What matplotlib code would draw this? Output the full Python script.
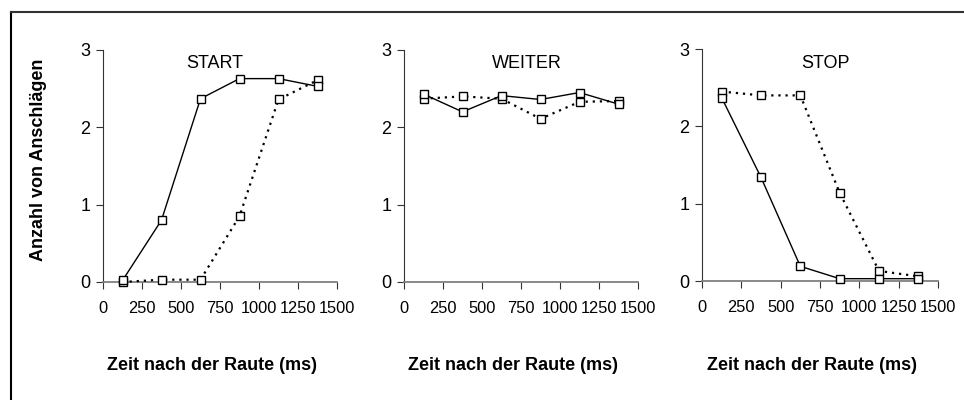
import matplotlib
matplotlib.use("Agg")
import matplotlib.pyplot as plt
from matplotlib.lines import Line2D

# bin centres (ms)
zeit = [125, 375, 625, 875, 1125, 1375]

titles = ["START", "WEITER", "STOP"]

# solid series
solid = [
    [0.02, 0.80, 2.37, 2.63, 2.63, 2.53],
    [2.43, 2.20, 2.41, 2.36, 2.45, 2.30],
    [2.37, 1.34, 0.19, 0.03, 0.03, 0.03],
]
# dotted series
dotted = [
    [0.00, 0.03, 0.03, 0.85, 2.36, 2.61],
    [2.37, 2.40, 2.37, 2.11, 2.33, 2.34],
    [2.45, 2.40, 2.40, 1.14, 0.13, 0.06],
]

xticks = [0, 250, 500, 750, 1000, 1250, 1500]
yticks = [0, 1, 2, 3]

W, H = 964, 400
fig = plt.figure(figsize=(W / 100, H / 100), dpi=100)

plain = ["Liberation Sans", "DejaVu Sans"]

# axes placement in pixels (left, right, top, bottom)
boxes = [(103, 337, 50, 282), (404, 638, 50, 282), (702, 938, 49, 281)]
title_x = [215, 527, 825]

for i in range(3):
    l, r, t, b = boxes[i]
    ax = fig.add_axes([l / W, 1 - b / H, (r - l) / W, (b - t) / H])
    ax.plot(zeit, dotted[i], color="black", lw=1.6, ls=(0, (1, 2.2)),
            marker="s", ms=6, mfc="white", mec="black", mew=1, zorder=3)
    ax.plot(zeit, solid[i], color="black", lw=1, ls="-",
            marker="s", ms=6, mfc="white", mec="black", mew=1, zorder=4)
    ax.set_xlim(0, 1500)
    ax.set_ylim(0, 3)
    ax.set_xticks(xticks)
    ax.set_yticks(yticks)
    ax.set_xticklabels([str(v) for v in xticks], family=plain, fontsize=11.8)
    ax.set_yticklabels([str(v) for v in yticks], family=plain, fontsize=13)
    for s in ["top", "right"]:
        ax.spines[s].set_visible(False)
    ax.spines["left"].set_color("#333333")
    ax.spines["left"].set_linewidth(0.8)
    ax.spines["bottom"].set_color("#808080")
    ax.spines["bottom"].set_linewidth(1.3)
    ax.tick_params(axis="y", direction="out", length=5, width=0.8, color="#333333", pad=4)
    ax.tick_params(axis="x", direction="out", length=5, width=0.8, color="#333333", pad=9)
    ax.patch.set_alpha(0)
    for sp in ax.spines.values():
        sp.set_clip_on(False)
    for ln in ax.lines:
        ln.set_clip_on(False)
    fig.text(title_x[i] / W, 1 - 63 / H, titles[i], ha="center", va="center",
             family=plain, fontsize=13)
    fig.text(((l + r) / 2 - 8) / W, 1 - 366 / H, "Zeit nach der Raute (ms)",
             ha="center", va="center", family=plain, fontsize=13, fontweight="bold")

fig.text(39 / W, 1 - 160 / H, "Anzahl von Anschlägen", rotation=90,
         ha="center", va="center", family=plain, fontsize=13, fontweight="bold")

# outer frame (only left and top edges visible)
fig.add_artist(Line2D([10.5 / W, 10.5 / W], [0, 1 - 11.5 / H], transform=fig.transFigure,
                      color="black", lw=1.5))
fig.add_artist(Line2D([10.5 / W, 1], [1 - 11.5 / H, 1 - 11.5 / H], transform=fig.transFigure,
                      color="#333333", lw=1.5))

fig.savefig("out.png", dpi=100, facecolor="white")
